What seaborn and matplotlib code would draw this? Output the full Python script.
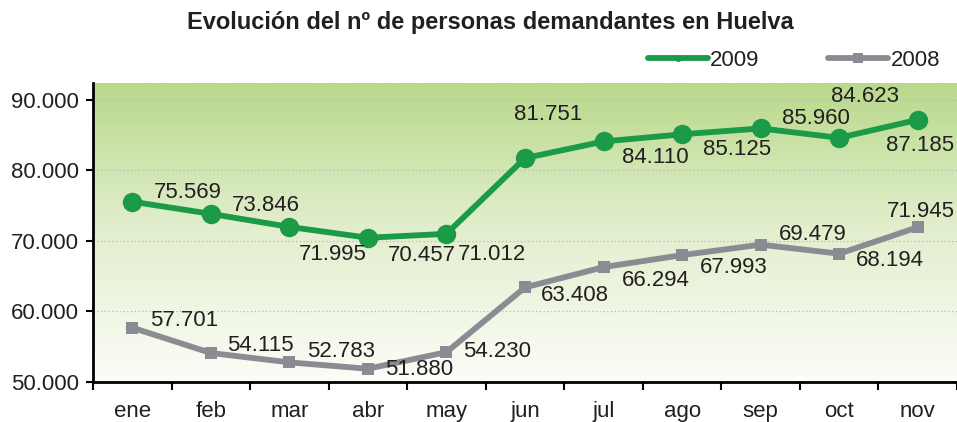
import numpy as np
import pandas as pd
import seaborn as sns
import matplotlib.pyplot as plt
from matplotlib.lines import Line2D
from matplotlib.colors import LinearSegmentedColormap

# data
meses = ['ene', 'feb', 'mar', 'abr', 'may', 'jun', 'jul', 'ago', 'sep', 'oct', 'nov']
demandantes_2009 = [75569, 73846, 71995, 70457, 71012, 81751, 84110, 85125, 85960, 84623, 87185]
demandantes_2008 = [57701, 54115, 52783, 51880, 54230, 63408, 66294, 67993, 69479, 68194, 71945]
etiquetas_2009 = ['75.569', '73.846', '71.995', '70.457', '71.012', '81.751', '84.110', '85.125', '85.960', '84.623', '87.185']
etiquetas_2008 = ['57.701', '54.115', '52.783', '51.880', '54.230', '63.408', '66.294', '67.993', '69.479', '68.194', '71.945']
yticks = [50000, 60000, 70000, 80000, 90000]
ytick_labels = ['50.000', '60.000', '70.000', '80.000', '90.000']

# label offsets in pixels (dx, dy), dy positive = up
off_2009 = [(56, 9), (55, 8), (43, -28), (54, -18), (46, -21), (23, 44),
            (52, -16), (55, -15), (55, 10), (26, 41), (2, -26)]
off_2008 = [(52, 7), (50, 7), (52, 11), (51, -1), (51, 1), (50, -8),
            (52, -13), (52, -12), (52, 10), (51, -7), (3, 16)]

verde = '#1b9a48'
gris = '#8b8c93'
texto = '#231f20'
fs = 16

df = pd.DataFrame({'mes': meses, 'v2009': demandantes_2009, 'v2008': demandantes_2008})

sns.set_style('white')
plt.rcParams['font.family'] = ['Liberation Sans', 'DejaVu Sans']

fig = plt.figure(figsize=(9.57, 4.22), dpi=100)
ax = fig.add_axes([93 / 957, 1 - 382 / 422, 1 - 93 / 957, (382 - 83) / 422])

# green gradient background
cmap = LinearSegmentedColormap.from_list('fondo', ['#fbfdf7', '#e3efcf', '#b9d98b'])
grad = np.linspace(0, 1, 256).reshape(-1, 1)
ax.imshow(grad, aspect='auto', cmap=cmap, origin='lower', extent=[0, 1, 0, 1],
          transform=ax.transAxes, zorder=0)

sns.lineplot(data=df, x='mes', y='v2008', ax=ax, color=gris, lw=4.2, marker='s',
             markersize=9, markeredgewidth=0, sort=False, zorder=3)
sns.lineplot(data=df, x='mes', y='v2009', ax=ax, color=verde, lw=4.2, marker='o',
             markersize=14, markeredgewidth=0, sort=False, zorder=4)

for i in range(len(meses)):
    ax.annotate(etiquetas_2009[i], (i, demandantes_2009[i]), xytext=off_2009[i],
                textcoords='offset pixels', ha='center', va='center', fontsize=fs,
                color=texto, zorder=5)
    ax.annotate(etiquetas_2008[i], (i, demandantes_2008[i]), xytext=off_2008[i],
                textcoords='offset pixels', ha='center', va='center', fontsize=fs,
                color=texto, zorder=5)

ax.set_xlim(-0.5, len(meses) - 0.5)
ax.set_ylim(50000, 92400)
ax.set_yticks(yticks)
ax.set_yticklabels(ytick_labels, fontsize=fs, color=texto)
ax.yaxis.grid(True, color='#b9b9b9', linestyle=(0, (1, 2)), lw=0.9)
ax.set_axisbelow(False)
for gl in ax.get_ygridlines():
    gl.set_zorder(1)

ax.set_xticks(np.arange(len(meses) + 1) - 0.5)
ax.set_xticklabels([])
ax.set_xticks(np.arange(len(meses)), minor=True)
ax.set_xticklabels(meses, minor=True, fontsize=fs, color=texto)
ax.tick_params(axis='x', which='major', direction='out', length=6, width=1.5, color='black', bottom=True)
ax.tick_params(axis='x', which='minor', length=0, pad=14)
ax.tick_params(axis='y', direction='out', length=5, width=1.5, color='black', left=True, pad=5)
ax.set_xlabel('')
ax.set_ylabel('')

for s in ['top', 'right']:
    ax.spines[s].set_visible(False)
for s in ['left', 'bottom']:
    ax.spines[s].set_color('black')
    ax.spines[s].set_linewidth(2)
    ax.spines[s].set_zorder(6)

fig.text(490 / 957, 1 - 22 / 422, 'Evolución del nº de personas demandantes en Huelva',
         ha='center', va='center', fontsize=17, fontweight='bold', color=texto)

handles = [Line2D([], [], color=verde, lw=4.2, marker='o', markersize=5, markeredgewidth=0),
           Line2D([], [], color=gris, lw=4.2, marker='s', markersize=7, markeredgewidth=0)]
fig.legend(handles, ['2009', '2008'], loc='center left', bbox_to_anchor=(648 / 957, 1 - 60 / 422),
           ncol=2, frameon=False, fontsize=fs, handlelength=2.7, handletextpad=0.1,
           columnspacing=3.1, borderpad=0, borderaxespad=0, labelcolor=texto)

fig.savefig('out.png', dpi=100)
